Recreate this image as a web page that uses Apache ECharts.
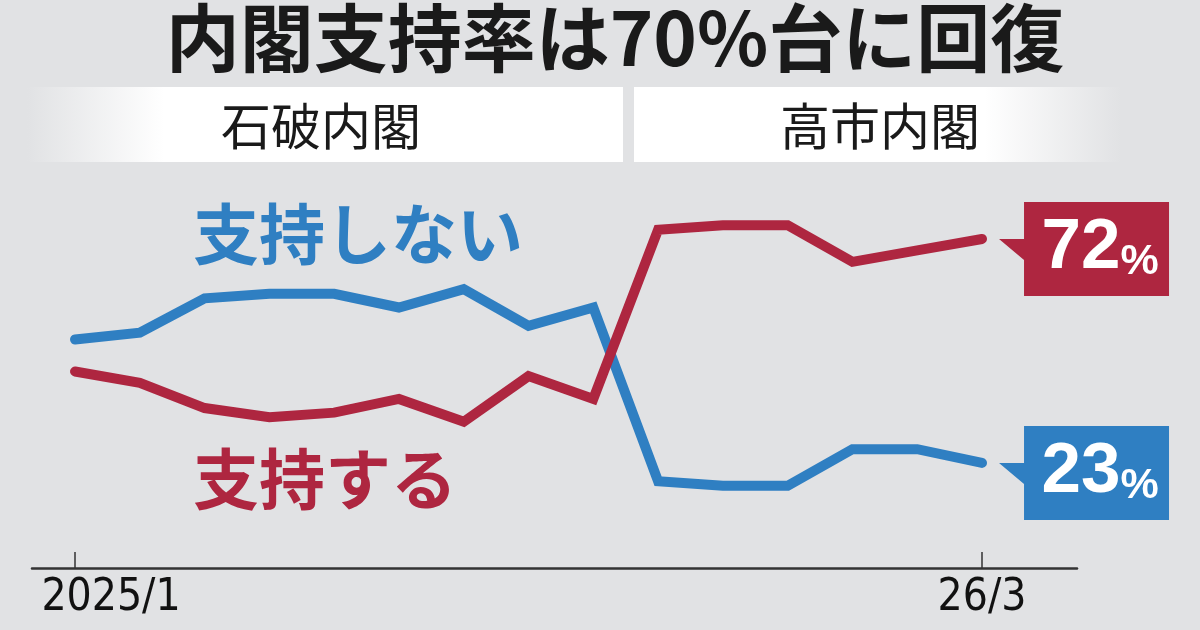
<!DOCTYPE html>
<html>
<head>
  <meta charset="utf-8">
  <title>内閣支持率は70%台に回復</title>
  <script src="https://cdn.jsdelivr.net/npm/echarts@6.0.0/dist/echarts.min.js"></script>
  <style>
    html, body { margin: 0; padding: 0; background: #e1e2e4; }
    #main { width: 1200px; height: 630px; }
  </style>
</head>
<body>
  <div id="main"></div>
  <script>
    // データ（2025年1月〜2026年3月、毎月）
    const months = ['2025/1', '2025/2', '2025/3', '2025/4', '2025/5', '2025/6', '2025/7', '2025/8',
                    '2025/9', '2025/10', '2025/11', '2025/12', '2026/1', '2026/2', '2026/3'];
    const tickIndex = [0, 14];
    const tickLabels = ['2025/1', '26/3'];
    const supportVals = [43, 40.5, 35, 33, 34, 37, 32, 42, 37, 74, 75, 75, 67, 69.5, 72];
    const notSupportVals = [50, 51.5, 59, 60, 60, 57, 61, 53, 57, 19, 18, 18, 26, 26, 23];
    const seriesNames = ['支持する', '支持しない'];
    const eras = ['石破内閣', '高市内閣'];
    const titleText = '内閣支持率は70%台に回復';

    const RED = '#ae2640';
    const BLUE = '#2f7fc2';
    const BG = '#e1e2e4';
    const CJK = '"Noto Sans CJK JP", "Noto Sans CJK SC", sans-serif';
    const NARROW = '"DejaVu Sans", sans-serif';

    const chart = echarts.init(document.getElementById('main'));

    // 右端の吹き出し（左に三角の付いた箱）
    const calloutPath = 'path://M0,37 L25,37 L25,0 L170,0 L170,94 L25,94 L25,58 Z';

    function endCallout(vals, color) {
      const last = vals.length - 1;
      return {
        symbol: calloutPath,
        symbolSize: [170, 94],
        symbolOffset: [102, 10],
        silent: true,
        itemStyle: { color: color },
        label: {
          show: true,
          position: 'inside',
          offset: [16, 0],
          formatter: p => '{n|' + Math.round(p.value) + '}{p|%}',
          rich: {
            n: { fontSize: 71, fontWeight: 'bold', color: '#fff', fontFamily: 'Liberation Sans, Arial, sans-serif', verticalAlign: 'bottom', lineHeight: 70 },
            p: { fontSize: 43, fontWeight: 'bold', color: '#fff', fontFamily: 'Liberation Sans, Arial, sans-serif', verticalAlign: 'bottom', lineHeight: 62 }
          }
        },
        data: [{ coord: [last, vals[last]], value: vals[last] }]
      };
    }

    function lineSeries(name, vals, color) {
      return {
        name: name,
        type: 'line',
        data: vals.map((v, i) => [i, v]),
        symbol: 'none',
        smooth: false,
        clip: false,
        lineStyle: { color: color, width: 10, cap: 'round', join: 'miter' },
        markPoint: endCallout(vals, color),
        animation: false
      };
    }

    const option = {
      backgroundColor: BG,
      animation: false,
      grid: { left: 32, right: 123, top: 111, bottom: 62 },
      xAxis: {
        type: 'value',
        min: -0.664,
        max: 15.466,
        splitLine: { show: false },
        axisLine: { show: true, onZero: false, lineStyle: { color: '#333', width: 2.5 } },
        axisTick: {
          show: true,
          inside: true,
          length: 16,
          customValues: tickIndex,
          lineStyle: { color: '#333', width: 1.5 }
        },
        axisLabel: {
          show: true,
          customValues: tickIndex,
          margin: 9,
          color: '#111',
          fontSize: 44,
          fontWeight: 'condensed',
          fontFamily: NARROW,
          formatter: function (v) {
            const k = tickIndex.indexOf(Math.round(v));
            if (k < 0) return '';
            return k === 0 ? '{first|' + tickLabels[k] + '}' : tickLabels[k];
          },
          rich: {
            first: {
              fontSize: 44,
              fontWeight: 'condensed',
              color: '#111',
              fontFamily: NARROW,
              padding: [0, 0, 0, 72]
            }
          }
        }
      },
      yAxis: {
        type: 'value',
        min: 0,
        max: 100,
        show: false,
        splitLine: { show: false }
      },
      graphic: [
        // 内閣の帯
        {
          type: 'rect',
          shape: { x: 27, y: 87, width: 596, height: 75 },
          style: {
            fill: new echarts.graphic.LinearGradient(0, 0, 1, 0, [
              { offset: 0, color: BG },
              { offset: 0.23, color: '#ffffff' },
              { offset: 1, color: '#ffffff' }
            ])
          },
          silent: true
        },
        {
          type: 'rect',
          shape: { x: 634, y: 87, width: 487, height: 75 },
          style: {
            fill: new echarts.graphic.LinearGradient(0, 0, 1, 0, [
              { offset: 0, color: '#ffffff' },
              { offset: 0.72, color: '#ffffff' },
              { offset: 1, color: BG }
            ])
          },
          silent: true
        },
        {
          type: 'text',
          x: 321, y: 126,
          style: { text: eras[0], fill: '#1a1a1a', font: 'normal 50px ' + CJK, align: 'center', verticalAlign: 'middle' },
          silent: true
        },
        {
          type: 'text',
          x: 880, y: 126,
          style: { text: eras[1], fill: '#1a1a1a', font: 'normal 50px ' + CJK, align: 'center', verticalAlign: 'middle' },
          silent: true
        },
        // タイトル
        {
          type: 'text',
          x: 615, y: 38,
          style: { text: titleText, fill: '#1a1a1a', font: 'bold 74px ' + CJK, align: 'center', verticalAlign: 'middle' },
          silent: true
        },
        // 系列名
        {
          type: 'text',
          x: 193, y: 234,
          style: { text: seriesNames[1], fill: BLUE, font: 'bold 66px ' + CJK, align: 'left', verticalAlign: 'middle' },
          silent: true
        },
        {
          type: 'text',
          x: 193, y: 479,
          style: { text: seriesNames[0], fill: RED, font: 'bold 66px ' + CJK, align: 'left', verticalAlign: 'middle' },
          silent: true
        }
      ],
      series: [
        lineSeries(seriesNames[1], notSupportVals, BLUE),
        lineSeries(seriesNames[0], supportVals, RED)
      ]
    };

    chart.setOption(option);
  </script>
</body>
</html>
